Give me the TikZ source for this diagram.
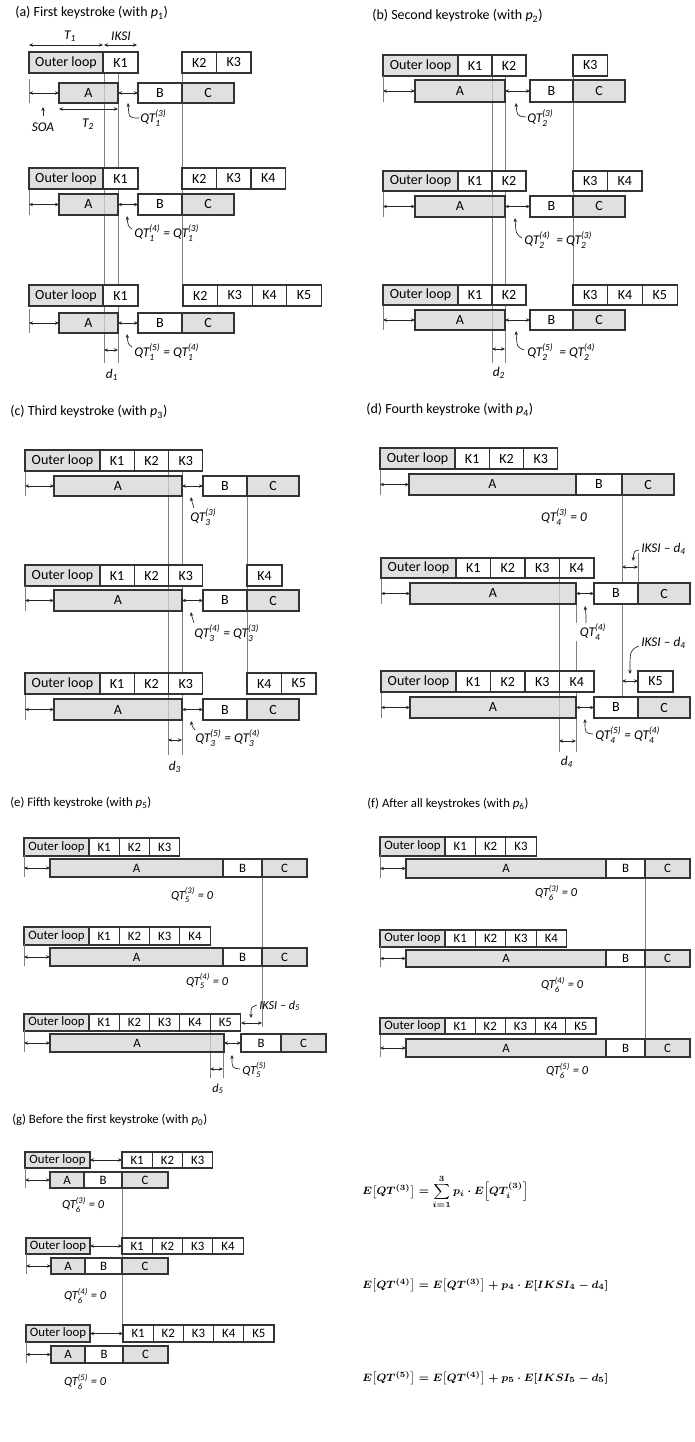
\documentclass[tikz,border=0pt]{standalone}
\usepackage{amsmath}
\usepackage{fontspec}
\setmainfont{Carlito}
\usetikzlibrary{arrows.meta}

% one box with its text in the middle
\newcommand{\cell}[6][box]{%
  \draw[#1] (#2,#3) rectangle (#4,#5);
  \path (#2,#3) -- node{#6} (#4,#5);}
% a run of keystroke boxes of equal width
\newcommand{\keyrun}[5]{%
  \foreach \k [count=\i from 0] in {#5}
    {\cell{#1+\i*#3}{#2}{#1+\i*#3+#3}{#2+#4}{\k}}}
\newcommand{\loopbox}[4]{\cell[gbox]{#1}{#2}{#3}{#4}{Outer loop}}
% tick, SOA arrow and the tasks A, B, C
\newcommand{\taskrow}[8]{%
  \draw[guide] (#3,#1-4) -- (#3,#2);
  \draw[arr] (#3,{(#1+#2)/2}) -- (#4,{(#1+#2)/2});
  \cell[gbox]{#4}{#1}{#5}{#2}{A}
  \cell{#6}{#1}{#7}{#2}{B}
  \cell[gbox]{#7}{#1}{#8}{#2}{C}}
\newcommand{\qt}[2]{$\textit{QT}_{\textit{#1}}^{\textit{(#2)}}$}
% the three expectations, set outside the picture
\newsavebox{\eqthree}
\newsavebox{\eqfour}
\newsavebox{\eqfive}

\begin{document}
\sbox{\eqthree}{\fontsize{8.4}{10}\selectfont\boldmath$E\bigl[QT^{(3)}\bigr]=\displaystyle\sum_{i=1}^{3}p_i\cdot E\Bigl[QT_i^{(3)}\Bigr]$}%
\sbox{\eqfour}{\fontsize{8.4}{10}\selectfont\boldmath$E\bigl[QT^{(4)}\bigr]=E\bigl[QT^{(3)}\bigr]+p_4\cdot E[IKSI_4-d_4]$}%
\sbox{\eqfive}{\fontsize{8.4}{10}\selectfont\boldmath$E\bigl[QT^{(5)}\bigr]=E\bigl[QT^{(4)}\bigr]+p_5\cdot E[IKSI_5-d_5]$}%
\begin{tikzpicture}[x=0.75pt,y=-0.75pt,
  >={Stealth[length=3pt,width=2.6pt]},
  font=\fontsize{10.5}{12}\selectfont,
  box/.style={draw=black!80,line width=0.8pt,fill=white},
  gbox/.style={box,fill=black!17,fill opacity=0.72},
  arr/.style={<->,line width=0.6pt,black!85},
  hook/.style={->,line width=0.5pt,black!85},
  guide/.style={black!50,line width=0.5pt},
  ttl/.style={anchor=west,inner sep=0pt},
  lbl/.style={inner sep=0pt,font=\fontsize{10}{12}\selectfont\itshape}]
\useasboundingbox (0,0) rectangle (694,1442);

% (a) first keystroke
\draw[guide] (104,73) -- (104,363);
\draw[guide] (118,73) -- (118,363);
\draw[guide] (182,73) -- (182,285);
\node[ttl] (ta) at (15,13) {(a) First keystroke (with \textit{p}\textsubscript{1})};
\draw[arr] (29,45) -- (103,45);
\draw[arr] (104,45) -- (137,45);
\node[lbl] (t1) at (70,36) {T\textsubscript{1}};
\node[lbl] (iksi) at (121,36) {IKSI};
\loopbox{29}{52}{103}{73}
\keyrun{103}{52}{35}{21}{K1}
\keyrun{182}{52}{34.5}{21}{K2,K3}
\taskrow{83}{103}{29}{59}{118}{138}{182}{234}
\draw[arr] (118,93) -- (138,93);
\draw[arr] (59,109) -- (118,109);
\node[lbl] (t2) at (88,124) {T\textsubscript{2}};
\draw[hook] (43,116) -- (43,107);
\node[lbl] (soa) at (43,127) {SOA};
\draw[hook] (139,118) .. controls (129,118) .. (128,103);
\node[lbl,anchor=west] (qa3) at (140,118) {\qt{1}{3}};
\loopbox{29}{168}{103}{189}
\keyrun{103}{168}{35}{21}{K1}
\keyrun{182}{168}{34.5}{21}{K2,K3,K4}
\taskrow{194}{215}{29}{59}{118}{138}{182}{234}
\draw[arr] (118,204.5) -- (138,204.5);
\draw[hook] (132,229) .. controls (128,226) .. (127,216);
\node[lbl,anchor=west] (qa4) at (134,233) {\qt{1}{4} = \qt{1}{3}};
\loopbox{29}{285}{103}{306}
\keyrun{103}{285}{35}{21}{K1}
\keyrun{183}{285}{34.6}{21}{K2,K3,K4,K5}
\taskrow{313}{333}{29}{59}{118}{138}{182}{234}
\draw[arr] (118,323) -- (138,323);
\draw[hook] (132,347) .. controls (128,344) .. (127,334);
\node[lbl,anchor=west] (qa5) at (134,352) {\qt{1}{5} = \qt{1}{4}};
\draw[arr] (104,350) -- (118,350);
\node[lbl] (d1) at (112,375) {d\textsubscript{1}};

% (b) second keystroke
\draw[guide] (492,76) -- (492,363);
\draw[guide] (505,76) -- (505,363);
\draw[guide] (573,76) -- (573,285);
\node[ttl] (tb) at (372,16) {(b) Second keystroke (with \textit{p}\textsubscript{2})};
\loopbox{383}{55}{458}{76}
\keyrun{458}{55}{34}{21}{K1,K2}
\keyrun{573}{55}{34.5}{21}{K3}
\taskrow{80}{102}{383}{415}{505}{530}{573}{625}
\draw[arr] (505,91) -- (530,91);
\draw[hook] (526,117) .. controls (517,116) .. (516,103);
\node[lbl,anchor=west] (qb3) at (527,118) {\qt{2}{3}};
\loopbox{383}{171}{458}{191}
\keyrun{458}{171}{34}{20}{K1,K2}
\keyrun{573}{171}{34.5}{20}{K3,K4}
\taskrow{196}{217}{383}{415}{505}{530}{573}{625}
\draw[arr] (505,206.5) -- (530,206.5);
\draw[hook] (522,238) .. controls (516,234) .. (515,218);
\node[lbl,anchor=west] (qb4) at (524,240) {\qt{2}{4}\ \ = \qt{2}{3}};
\loopbox{383}{285}{458}{305}
\keyrun{458}{285}{34}{20}{K1,K2}
\keyrun{573}{285}{34.7}{20}{K3,K4,K5}
\taskrow{310}{330}{383}{415}{505}{530}{573}{625}
\draw[arr] (505,320) -- (530,320);
\draw[hook] (524,350) .. controls (517,347) .. (516,331);
\node[lbl,anchor=west] (qb5) at (527,352) {\qt{2}{5}\ \ = \qt{2}{4}};
\draw[arr] (492,349) -- (505,349);
\node[lbl] (d2) at (499,373) {d\textsubscript{2}};

% (c) third keystroke
\draw[guide] (168,471) -- (168,755);
\draw[guide] (182,471) -- (182,755);
\draw[guide] (247,496) -- (247,673);
\node[ttl] (tc) at (10,412) {(c) Third keystroke (with \textit{p}\textsubscript{3})};
\loopbox{25}{450}{100}{471}
\keyrun{100}{450}{34.3}{21}{K1,K2,K3}
\taskrow{476}{496}{25}{54}{182}{203}{247}{299}
\draw[arr] (182,486) -- (203,486);
\draw[hook] (194,508) .. controls (192,504) .. (191,497);
\node[lbl,anchor=west] (qc3) at (190,517) {\qt{3}{3}};
\loopbox{25}{565}{100}{586}
\keyrun{100}{565}{34.3}{21}{K1,K2,K3}
\keyrun{247}{565}{35}{21}{K4}
\taskrow{590}{611}{25}{54}{182}{203}{247}{299}
\draw[arr] (182,600.5) -- (203,600.5);
\draw[hook] (194,623) .. controls (192,619) .. (191,612);
\node[lbl,anchor=west] (qc4) at (194,633) {\qt{3}{4} = \qt{3}{3}};
\loopbox{25}{673}{100}{694}
\keyrun{100}{673}{34.3}{21}{K1,K2,K3}
\keyrun{247}{673}{34.5}{21}{K4,K5}
\taskrow{699}{720}{25}{54}{182}{203}{247}{299}
\draw[arr] (182,709.5) -- (203,709.5);
\draw[hook] (195,730) .. controls (192,726) .. (191,721);
\node[lbl,anchor=west] (qc5) at (195,738) {\qt{3}{5} = \qt{3}{4}};
\draw[arr] (168,740) -- (182,740);
\node[lbl] (d3) at (175,767) {d\textsubscript{3}};

% (d) fourth keystroke
\draw[guide] (559,578) -- (559,752);
\draw[guide] (576,604) -- (576,623);
\draw[guide] (576,641) -- (576,752);
\draw[guide] (622,495) -- (622,697);
\draw[guide] (638,553) -- (638,583);
\node[ttl] (td) at (366,410) {(d) Fourth keystroke (with \textit{p}\textsubscript{4})};
\loopbox{380}{448}{455}{469}
\keyrun{455}{448}{34.3}{21}{K1,K2,K3}
\taskrow{474}{495}{380}{409}{576}{576}{622}{674}
\node[lbl] (qd3) at (564,517) {\qt{4}{3} = 0};
\loopbox{381}{558}{456}{578}
\keyrun{456}{558}{34.5}{20}{K1,K2,K3,K4}
\taskrow{583}{604}{381}{410}{576}{594}{638}{690}
\draw[arr] (576,593.5) -- (594,593.5);
\draw[arr] (622,567) -- (638,567);
\draw[hook] (639,550) .. controls (634,551) .. (633,561);
\node[lbl,anchor=west] (qd4i) at (641,549) {IKSI -- d\textsubscript{4}};
\draw[hook] (586,623) .. controls (586,614) .. (585,606);
\node[lbl] (qd4) at (593,632) {\qt{4}{4}};
\loopbox{381}{671}{456}{692}
\keyrun{456}{671}{34.5}{21}{K1,K2,K3,K4}
\keyrun{638}{671}{35}{21}{K5}
\taskrow{697}{718}{381}{410}{576}{594}{638}{690}
\draw[arr] (576,707.5) -- (594,707.5);
\draw[arr] (622,681) -- (638,681);
\draw[hook] (639,646) .. controls (630,650) .. (630,674);
\node[lbl,anchor=west] (qd5i) at (641,643) {IKSI -- d\textsubscript{4}};
\draw[hook] (593,734) .. controls (585,733) .. (585,719);
\node[lbl,anchor=west] (qd5) at (595,735) {\qt{4}{5} = \qt{4}{4}};
\draw[arr] (559,741) -- (576,741);
\node[lbl] (d4) at (567,762) {d\textsubscript{4}};

\begin{scope}[font=\fontsize{9.6}{11}\selectfont,
  lbl/.style={inner sep=0pt,font=\fontsize{9.2}{11}\selectfont\itshape}]
% (e) fifth keystroke
\draw[guide] (262,877) -- (262,1027);
\draw[guide] (210,1031) -- (210,1078);
\draw[guide] (223,1052) -- (223,1078);
\node[ttl] (te) at (10,803) {(e) Fifth keystroke (with \textit{p}\textsubscript{5})};
\loopbox{24}{838}{89}{856}
\keyrun{89}{838}{30.3}{18}{K1,K2,K3}
\taskrow{859}{877}{24}{50}{223}{223}{262}{307}
\node[lbl] (qe3) at (192,895) {\qt{5}{3} = 0};
\loopbox{24}{927}{89}{945}
\keyrun{89}{927}{30.3}{18}{K1,K2,K3,K4}
\taskrow{948}{966}{24}{50}{223}{223}{262}{307}
\node[lbl] (qe4) at (207,981) {\qt{5}{4} = 0};
\loopbox{24}{1014}{89}{1031}
\keyrun{89}{1014}{30.3}{17}{K1,K2,K3,K4,K5}
\taskrow{1034}{1052}{24}{50}{224}{241}{281}{326}
\draw[arr] (224,1043) -- (241,1043);
\draw[arr] (241,1023) -- (262,1023);
\draw[hook] (257,1005) .. controls (251,1007) .. (251,1018);
\node[lbl,anchor=west] (qe5i) at (259,1006) {IKSI -- d\textsubscript{5}};
\draw[hook] (240,1069) .. controls (232,1068) .. (232,1055);
\node[lbl,anchor=west] (qe5) at (242,1070) {\qt{5}{5}};
\draw[arr] (210,1069) -- (223,1069);
\node[lbl] (d5) at (218,1089) {d\textsubscript{5}};

% (f) after all keystrokes
\draw[guide] (645,878) -- (645,1039);
\node[ttl] (tf) at (367,804) {(f) After all keystrokes (with \textit{p}\textsubscript{6})};
\loopbox{380}{837}{445}{856}
\keyrun{445}{837}{30.4}{19}{K1,K2,K3}
\taskrow{859}{878}{380}{406}{606}{606}{645}{690}
\node[lbl] (qf3) at (556,893) {\qt{6}{3} = 0};
\loopbox{380}{930}{445}{947}
\keyrun{445}{930}{30.4}{17}{K1,K2,K3,K4}
\taskrow{950}{967}{380}{406}{606}{606}{645}{690}
\node[lbl] (qf4) at (562,985) {\qt{6}{4} = 0};
\loopbox{380}{1018}{445}{1034}
\keyrun{445}{1018}{30.2}{16}{K1,K2,K3,K4,K5}
\taskrow{1039}{1057}{380}{406}{606}{606}{645}{690}
\node[lbl] (qf5) at (567,1071) {\qt{6}{5} = 0};

% (g) before the first keystroke
\draw[guide] (122,1188) -- (122,1325);
\node[ttl] (tg) at (12,1120) {(g) Before the first keystroke (with \textit{p}\textsubscript{0})};
\loopbox{25}{1152}{90}{1168}
\draw[arr] (90,1160) -- (122,1160);
\keyrun{122}{1152}{30.3}{16}{K1,K2,K3}
\taskrow{1172}{1188}{25}{50}{84}{84}{122}{168}
\node[lbl] (qg3) at (83,1205) {\qt{6}{3} = 0};
\loopbox{26}{1238}{90}{1254}
\draw[arr] (90,1246) -- (122,1246);
\keyrun{122}{1238}{30.3}{16}{K1,K2,K3,K4}
\taskrow{1258}{1274}{26}{51}{85}{85}{122}{168}
\node[lbl] (qg4) at (85,1296) {\qt{6}{4} = 0};
\loopbox{26}{1325}{90}{1342}
\draw[arr] (90,1333.5) -- (123,1333.5);
\keyrun{123}{1325}{30.2}{17}{K1,K2,K3,K4,K5}
\taskrow{1346}{1363}{26}{51}{85}{85}{123}{168}
\node[lbl] (qg5) at (85,1382) {\qt{6}{5} = 0};
\end{scope}

% expected queueing times
\node[anchor=west,inner sep=0pt] (eq3) at (362,1192) {\usebox{\eqthree}};
\node[anchor=west,inner sep=0pt] (eq4) at (362,1285) {\usebox{\eqfour}};
\node[anchor=west,inner sep=0pt] (eq5) at (362,1378) {\usebox{\eqfive}};
\end{tikzpicture}
\end{document}
